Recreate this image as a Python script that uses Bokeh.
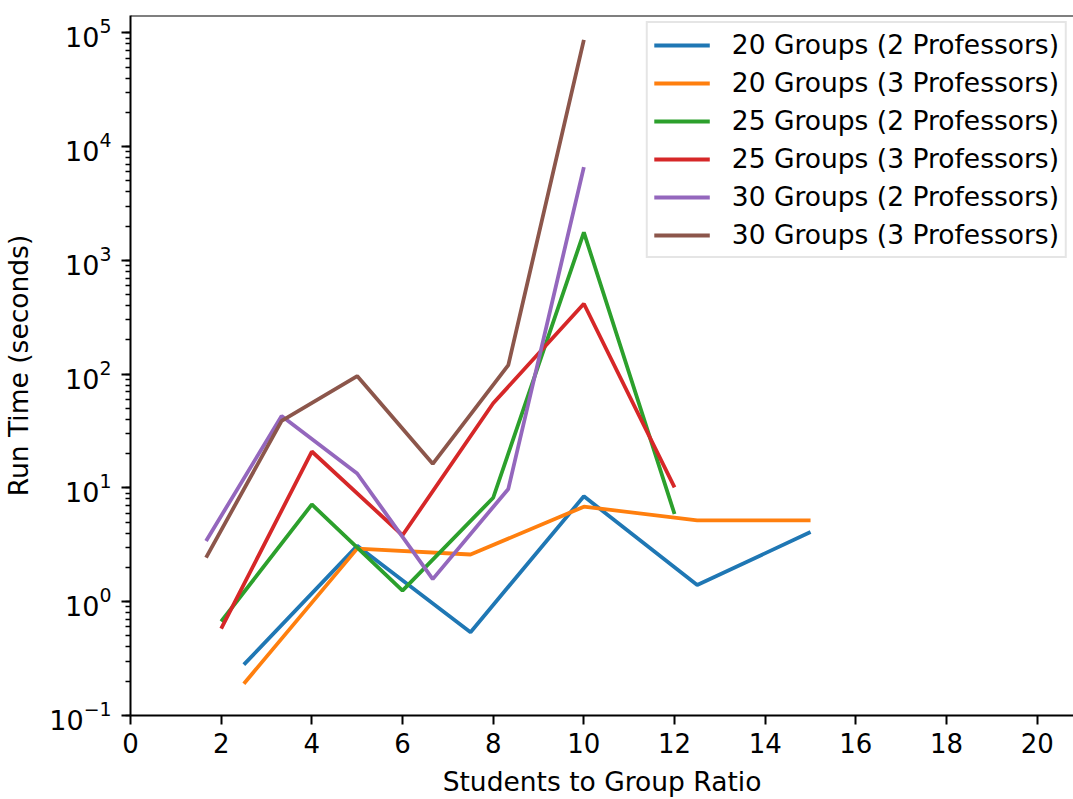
from bokeh.plotting import figure
from bokeh.models import Range1d, Legend, LegendItem, Span, FixedTicker, LogTicker
from bokeh.embed import file_html
from bokeh.resources import INLINE

# Students-to-group ratios for each group count
ratio_20 = [2.5, 5.0, 7.5, 10.0, 12.5, 15.0]
ratio_25 = [2.0, 4.0, 6.0, 8.0, 10.0, 12.0]
ratio_30 = [50 / 30, 100 / 30, 150 / 30, 200 / 30, 250 / 30, 300 / 30]

# Run times in seconds
time_20_2 = [0.28, 3.1, 0.54, 8.45, 1.40, 4.1]
time_20_3 = [0.19, 2.93, 2.6, 6.84, 5.19, 5.19]
time_25_2 = [0.67, 7.16, 1.25, 8.2, 1760, 5.9]
time_25_3 = [0.58, 20.9, 3.84, 55.5, 416, 10.1]
time_30_2 = [3.42, 42.9, 13.4, 1.58, 9.8, 6610]
time_30_3 = [2.44, 38.9, 96.2, 16.3, 120, 86700]

labels = [
    "20 Groups (2 Professors)",
    "20 Groups (3 Professors)",
    "25 Groups (2 Professors)",
    "25 Groups (3 Professors)",
    "30 Groups (2 Professors)",
    "30 Groups (3 Professors)",
]
x_ticks = [0, 2, 4, 6, 8, 10, 12, 14, 16, 18, 20]

colors = ["#1f77b4", "#ff7f0e", "#2ca02c", "#d62728", "#9467bd", "#8c564b"]
series = [
    (ratio_20, time_20_2),
    (ratio_20, time_20_3),
    (ratio_25, time_25_2),
    (ratio_25, time_25_3),
    (ratio_30, time_30_2),
    (ratio_30, time_30_3),
]

FONT = "DejaVu Sans"

p = figure(
    width=1073, height=799,
    y_axis_type="log",
    x_range=Range1d(0, 20.8),
    y_range=Range1d(0.1, 1.42e5),
    output_backend="svg",
    toolbar_location=None,
    min_border_left=130, min_border_right=0,
    min_border_top=15, min_border_bottom=82,
)
p.outline_line_color = None
p.grid.visible = False
p.background_fill_color = "white"
p.border_fill_color = "white"

renderers = []
for (xs, ys), c in zip(series, colors):
    r = p.line(xs, ys, line_color=c, line_width=3.8)
    renderers.append(r)

# top spine
p.add_layout(Span(location=1.42e5, dimension="width", line_color="black", line_width=2))

for ax in (p.xaxis[0], p.yaxis[0]):
    ax.axis_line_width = 2
    ax.axis_line_color = "black"
    ax.major_tick_line_width = 2
    ax.minor_tick_line_width = 1.5
    ax.major_tick_in = 0
    ax.major_tick_out = 9
    ax.minor_tick_in = 0
    ax.minor_tick_out = 5
    ax.major_label_text_font = FONT
    ax.major_label_text_font_size = "26px"
    ax.major_label_text_color = "black"
    ax.axis_label_text_font = FONT
    ax.axis_label_text_font_size = "26.5px"
    ax.axis_label_text_font_style = "normal"
    ax.axis_label_text_color = "black"

p.xaxis.ticker = FixedTicker(ticks=x_ticks)
p.xaxis.minor_tick_line_color = None
p.xaxis.major_label_standoff = 8
p.xaxis.axis_label = "Students to Group Ratio"
p.xaxis.axis_label_standoff = 10

p.yaxis.ticker = LogTicker(num_minor_ticks=10)
p.yaxis.major_label_standoff = 10
p.yaxis.major_label_text_font_size = "27px"
p.yaxis.axis_label = "Run Time (seconds)"
p.yaxis.axis_label_standoff = 12

items = [LegendItem(label=l, renderers=[r]) for l, r in zip(labels, renderers)]
legend = Legend(
    items=items,
    location="top_right",
    margin=6,
    padding=6,
    spacing=7,
    glyph_width=56,
    glyph_height=26,
    label_height=26,
    label_standoff=22,
    label_text_font=FONT,
    label_text_font_size="26.5px",
    label_text_color="black",
    border_line_color="#cccccc",
    border_line_width=2,
    background_fill_alpha=0.8,
)
p.add_layout(legend)

open("out.html", "w").write(file_html(p, INLINE))
